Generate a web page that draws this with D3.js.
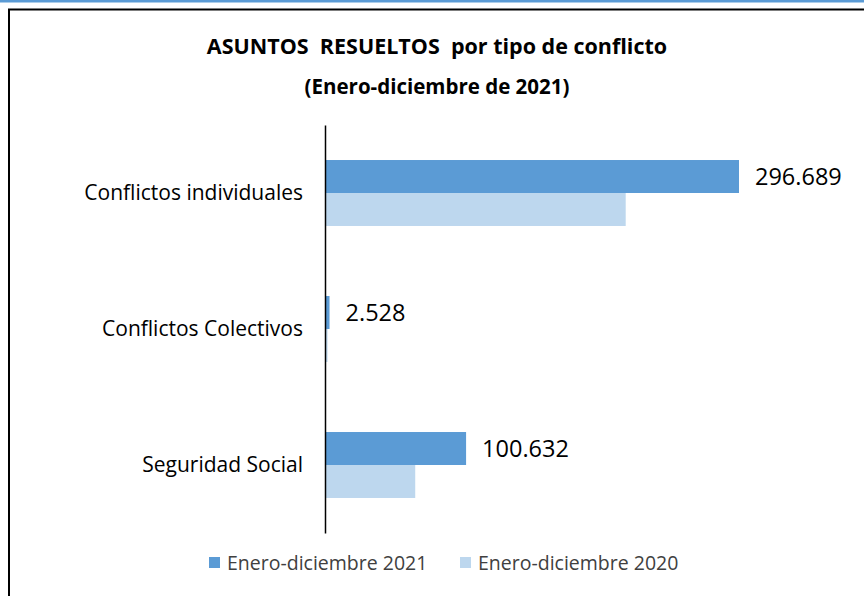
<!DOCTYPE html>
<html>
<head>
<meta charset="utf-8">
<script src="https://cdn.jsdelivr.net/npm/d3@7"></script>
<style>
  body { margin: 0; background: #fff; }
  svg { display: block; font-family: "Open Sans", Lato, sans-serif; }
</style>
</head>
<body>
<svg id="chart" width="864" height="596"></svg>
<script>
"use strict";

// categories top to bottom, as in the picture
const categories = ['Conflictos individuales', 'Conflictos Colectivos', 'Seguridad Social'];
const seriesNames = ['Enero-diciembre 2021', 'Enero-diciembre 2020'];
const values2021 = [296689, 2528, 100632];
const values2020 = [215300, 1100, 64100];
const seriesColors = ['#5b9bd5', '#bdd7ee'];

const svg = d3.select('#chart');
const width = 864;
const height = 596;
const font = '"Open Sans", Lato, sans-serif';

// blue strip at the very top and the chart frame
svg.append('rect').attr('x', 0).attr('y', 0).attr('width', width).attr('height', 2.5).attr('fill', '#5b9bd5');
svg.append('rect')
  .attr('x', 9).attr('y', 9.5)
  .attr('width', width + 10).attr('height', height)
  .attr('fill', 'none').attr('stroke', '#000').attr('stroke-width', 2);

// titles
svg.append('text')
  .attr('x', 437).attr('y', 54)
  .attr('text-anchor', 'middle')
  .style('font-size', '21.5px').style('font-weight', 'bold')
  .style('white-space', 'pre')
  .text('ASUNTOS  RESUELTOS  por tipo de conflicto');

svg.append('text')
  .attr('x', 437).attr('y', 94)
  .attr('text-anchor', 'middle')
  .style('font-size', '20.5px').style('font-weight', 'bold')
  .text('(Enero-diciembre de 2021)');

const axisX = 326;
const x = d3.scaleLinear().domain([0, 296689]).range([axisX, 739]);
const y = d3.scaleBand().domain(categories).range([125, 533]).paddingInner(0.515).paddingOuter(0.2575);
const ySeries = d3.scaleBand().domain(seriesNames).range([0, y.bandwidth()]);

const rows = categories.map((c, i) => ({ cat: c, vals: [values2021[i], values2020[i]] }));

const groups = svg.append('g').selectAll('g')
  .data(rows)
  .join('g')
  .attr('transform', (d) => 'translate(0,' + y(d.cat) + ')');

groups.selectAll('rect')
  .data((d) => d.vals.map((v, j) => ({ v: v, s: seriesNames[j], j: j })))
  .join('rect')
  .attr('x', axisX)
  .attr('y', (d) => ySeries(d.s))
  .attr('width', (d) => Math.max(0, x(d.v) - axisX))
  .attr('height', ySeries.bandwidth())
  .attr('fill', (d) => seriesColors[d.j]);

// value labels for 2021
groups.append('text')
  .attr('x', (d) => x(d.vals[0]) + 16)
  .attr('y', ySeries(seriesNames[0]) + ySeries.bandwidth() / 2)
  .attr('dy', '0.38em')
  .style('font-size', '23.5px')
  .style('fill', '#000')
  .text((d) => d3.format(',')(d.vals[0]).replace(/,/g, '.'));

// category axis
const yAxis = d3.axisLeft(y).tickSize(0).tickPadding(22);
const gAxis = svg.append('g').attr('transform', 'translate(' + (axisX - 1) + ',0)').call(yAxis);
gAxis.select('.domain').attr('stroke', '#000').attr('stroke-width', 1.5);
gAxis.selectAll('text')
  .style('font-family', font)
  .style('font-size', '21px')
  .style('fill', '#000');

// legend
const legendItems = [{ name: seriesNames[0], x: 209 }, { name: seriesNames[1], x: 460 }];
const legend = svg.append('g').selectAll('g')
  .data(legendItems)
  .join('g')
  .attr('transform', (d) => 'translate(' + d.x + ',557)');
legend.append('rect')
  .attr('width', 11).attr('height', 11)
  .attr('fill', (d, i) => seriesColors[i]);
legend.append('text')
  .attr('x', 18).attr('y', 6)
  .attr('dy', '0.36em')
  .style('font-size', '19.5px')
  .style('fill', '#404040')
  .text((d) => d.name);
</script>
</body>
</html>
